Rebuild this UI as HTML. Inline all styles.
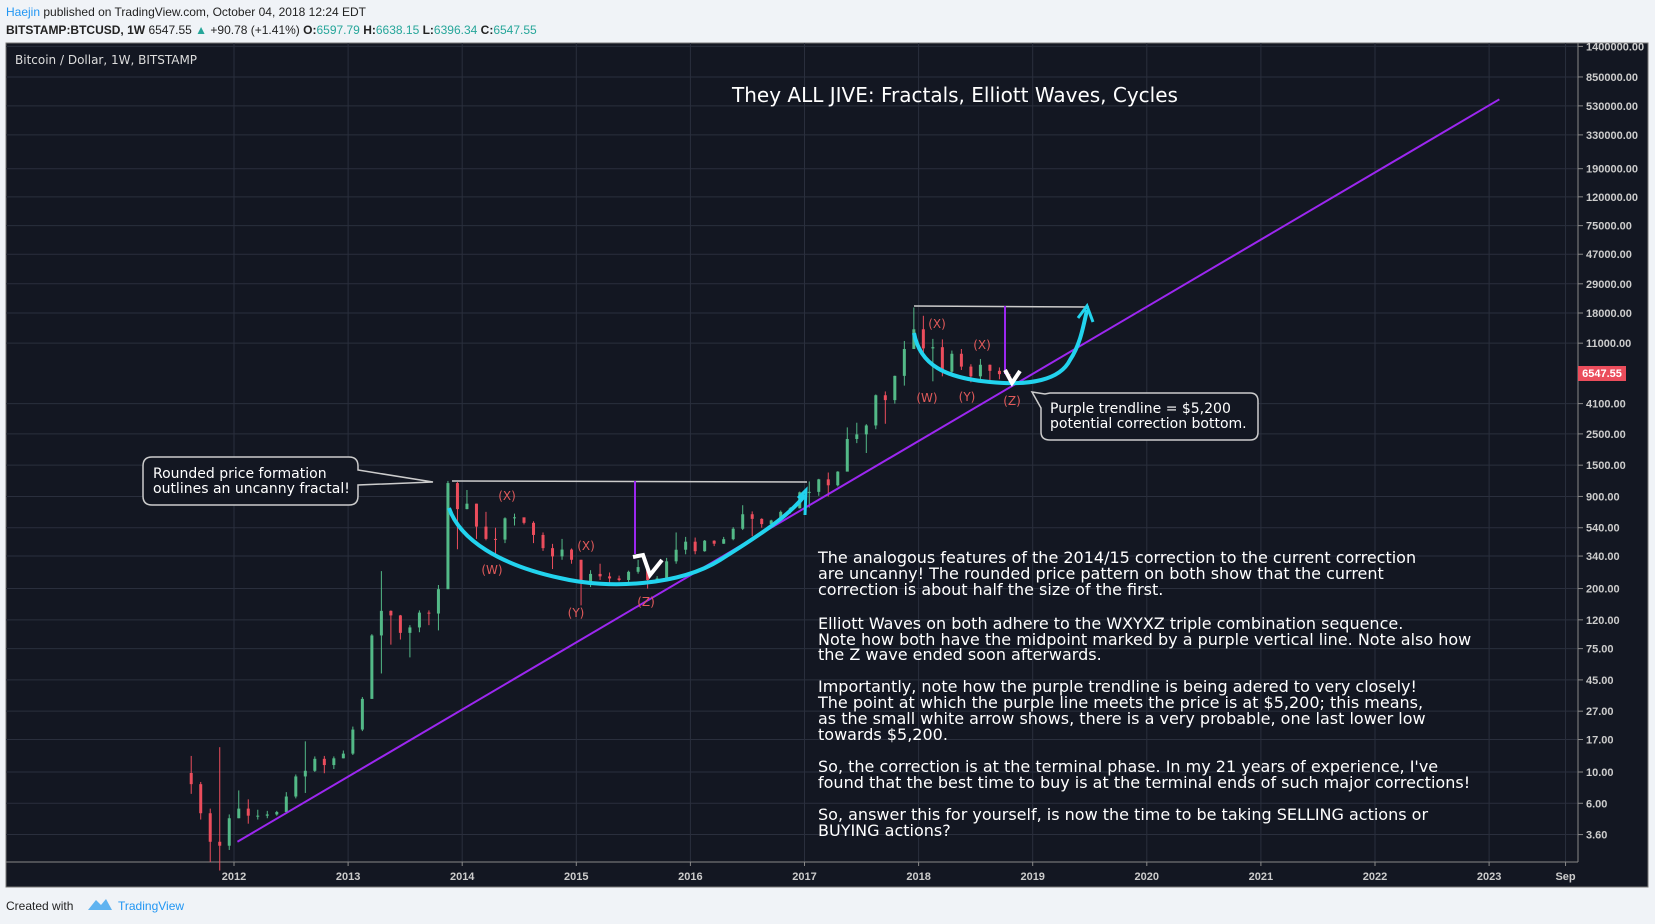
<!DOCTYPE html>
<html><head><meta charset="utf-8"><style>
body{margin:0;width:1655px;height:924px;background:#f0f3f7;overflow:hidden;font-family:"Liberation Sans",sans-serif}
svg{position:absolute;left:0;top:0}
</style></head><body>
<svg id="c" width="1655" height="924" xmlns="http://www.w3.org/2000/svg">
<rect x="0" y="0" width="1655" height="924" fill="#f0f3f7"/>
<text x="6" y="16" font-size="12" fill="#222"><tspan fill="#2196f3">Haejin</tspan> published on TradingView.com, October 04, 2018 12:24 EDT</text>
<text x="6" y="34" font-size="12" font-weight="bold" fill="#222">BITSTAMP:BTCUSD, 1W <tspan font-weight="normal">6547.55 </tspan><tspan fill="#26a69a">▲</tspan><tspan font-weight="normal"> +90.78 (+1.41%) </tspan>O:<tspan fill="#26a69a" font-weight="normal">6597.79</tspan> H:<tspan fill="#26a69a" font-weight="normal">6638.15</tspan> L:<tspan fill="#26a69a" font-weight="normal">6396.34</tspan> C:<tspan fill="#26a69a" font-weight="normal">6547.55</tspan></text>
<rect x="6" y="43" width="1642" height="844" fill="#131722" stroke="#777"/>
<g id="grid"></g>
<line x1="1578" y1="43" x2="1578" y2="862" stroke="#888"/>
<line x1="6" y1="862" x2="1578" y2="862" stroke="#888"/>
<g id="candles"></g>
<g id="trend"></g>
<text x="15" y="64" font-size="12" fill="#ddd" font-family="DejaVu Sans,sans-serif">Bitcoin / Dollar, 1W, BITSTAMP</text>
<text x="955" y="102" font-size="20" fill="#fff" text-anchor="middle" font-family="DejaVu Sans,sans-serif">They ALL JIVE: Fractals, Elliott Waves, Cycles</text>
<g fill="none">
<line x1="452" y1="481" x2="807" y2="482" stroke="#ccc" stroke-width="1.5"/>
<line x1="914" y1="306" x2="1089" y2="307" stroke="#ccc" stroke-width="1.5"/>
<line x1="635" y1="481" x2="635" y2="554" stroke="#9c27f0" stroke-width="2"/>
<line x1="1005" y1="306" x2="1005" y2="374" stroke="#9c27f0" stroke-width="2"/>
<path d="M449,508 C460,540 500,565 560,578 C610,590 680,585 720,560 C760,535 790,515 805,495" stroke="#22d3ee" stroke-width="4"/>
<path d="M798,498 L806,490 L805,515" stroke="#22d3ee" stroke-width="3"/>
<path d="M914,333 C920,365 945,378 990,382 C1030,386 1060,380 1070,360 C1080,345 1083,328 1087,310" stroke="#22d3ee" stroke-width="4"/>
<path d="M1078,318 L1087,306 L1093,322" stroke="#22d3ee" stroke-width="3"/>
<path d="M633,557 L643,555 L650,575 L662,560" stroke="#fff" stroke-width="4"/>
<path d="M1005,370 L1012,383 L1020,371" stroke="#fff" stroke-width="4"/>
</g>
<g font-size="12" fill="#e05a5a" font-family="DejaVu Sans,sans-serif" text-anchor="middle">
<text x="507" y="500">(X)</text><text x="492" y="574">(W)</text><text x="586" y="550">(X)</text><text x="576" y="617">(Y)</text><text x="646" y="606">(Z)</text>
<text x="937" y="328">(X)</text><text x="927" y="402">(W)</text><text x="982" y="349">(X)</text><text x="967" y="401">(Y)</text><text x="1012" y="405">(Z)</text>
</g>
<g>
<path d="M152,457 H349 Q358,457 358,466 V470 L433,482 L358,485 V496 Q358,505 349,505 H152 Q143,505 143,496 V466 Q143,457 152,457 Z" fill="#131722" stroke="#ccc" stroke-width="1.5"/>
<text x="153" y="478" font-size="14" fill="#fff" font-family="DejaVu Sans,sans-serif">Rounded price formation</text>
<text x="153" y="493" font-size="14" fill="#fff" font-family="DejaVu Sans,sans-serif">outlines an uncanny fractal!</text>
</g>
<g>
<path d="M1050,393 H1250 Q1258,393 1258,401 V432 Q1258,440 1250,440 H1050 Q1041,440 1041,432 V408 L1032,392 L1045,394 Z" fill="#131722" stroke="#ccc" stroke-width="1.5"/>
<text x="1050" y="413" font-size="14" fill="#fff" font-family="DejaVu Sans,sans-serif">Purple trendline = $5,200</text>
<text x="1050" y="428" font-size="14" fill="#fff" font-family="DejaVu Sans,sans-serif">potential correction bottom.</text>
</g>
<g font-size="16" fill="#fff" font-family="DejaVu Sans,sans-serif">
<text x="818" y="563">The analogous features of the 2014/15 correction to the current correction</text>
<text x="818" y="579">are uncanny! The rounded price pattern on both show that the current</text>
<text x="818" y="595">correction is about half the size of the first.</text>
<text x="818" y="629">Elliott Waves on both adhere to the WXYXZ triple combination sequence.</text>
<text x="818" y="645">Note how both have the midpoint marked by a purple vertical line. Note also how</text>
<text x="818" y="660">the Z wave ended soon afterwards.</text>
<text x="818" y="692">Importantly, note how the purple trendline is being adered to very closely!</text>
<text x="818" y="708">The point at which the purple line meets the price is at $5,200; this means,</text>
<text x="818" y="724">as the small white arrow shows, there is a very probable, one last lower low</text>
<text x="818" y="740">towards $5,200.</text>
<text x="818" y="772">So, the correction is at the terminal phase. In my 21 years of experience, I've</text>
<text x="818" y="788">found that the best time to buy is at the terminal ends of such major corrections!</text>
<text x="818" y="820">So, answer this for yourself, is now the time to be taking SELLING actions or</text>
<text x="818" y="836">BUYING actions?</text>
</g>
<g>
<rect x="1578" y="366" width="48" height="15" fill="#eb4d5c"/>
<text x="1602" y="377" font-size="11" fill="#fff" text-anchor="middle" font-weight="bold">6547.55</text>
</g>
<text x="6" y="910" font-size="12" fill="#222">Created with</text>
<path d="M88,910 L96,900 L101,905 L106,899 L112,910 Z" fill="#5fb3f0"/>
<text x="118" y="910" font-size="12" fill="#2196f3">TradingView</text>
</svg>
<script>
const yTicks=[1400000,850000,530000,330000,190000,120000,75000,47000,29000,18000,11000,4100,2500,1500,900,540,340,200,120,75,45,27,17,10,6,3.6];
const xTickLabels=["2012","2013","2014","2015","2016","2017","2018","2019","2020","2021","2022","2023","Sep"];
const xTickYears=[2012,2013,2014,2015,2016,2017,2018,2019,2020,2021,2022,2023,2023.67];
const startYear=2011,startMonth=7;
const closes=[8.2,5.1,3.2,3.0,4.7,5.5,4.9,4.9,5.0,5.2,6.7,9.3,10.2,12.4,11.2,12.5,13.5,20,33,93,139,129,97,106,135,133,198,1120,732,800,550,450,445,630,640,585,480,387,338,378,320,217,254,244,236,230,263,284,230,236,312,377,430,368,437,416,448,531,673,624,573,608,700,742,963,970,1190,1080,1350,2300,2480,2870,4700,4340,6450,10000,13800,10100,10300,6900,9250,7500,6400,7730,7000,6630,6547.55];
const highs=[13,8.5,5.5,15,5,7.4,6.4,5.4,5.3,5.3,7.2,9.6,16.5,12.9,13,12.9,14.2,21,34,95,266,140,130,110,140,140,212,1160,1140,1000,800,700,540,640,680,630,600,500,415,450,385,320,270,300,260,247,268,320,285,245,330,500,465,460,442,440,465,545,780,705,630,615,715,755,975,1150,1200,1330,1360,2780,3000,2930,4760,5000,6470,11400,19700,17200,11800,11700,9750,10000,7800,8500,7760,7400,6640];
const lows=[7,4.6,2.3,2.0,2.8,4.7,4.3,4.6,4.7,4.9,5.2,6.5,7.1,10,9.8,10.5,12.5,13.2,19.5,33,50,80,87,65,98,110,101,198,380,730,450,440,340,420,560,570,420,370,275,320,300,152,205,230,215,225,220,255,200,225,235,300,350,350,365,400,415,440,520,470,540,570,605,680,740,750,910,900,1060,1380,2150,1830,2700,2950,4100,5500,10900,9300,5900,6400,6450,7100,5800,6000,5850,6100,6400];
const trendStart=[2012.03,3.2],trendEnd=[2023.09,590000];
const NS='http://www.w3.org/2000/svg';
function xs(yr){return 234+(yr-2012)*114.1;}
function ys(p){return 772-141*(Math.log10(p)-1);}
function mk(t,a,parent){const e=document.createElementNS(NS,t);for(const k in a)e.setAttribute(k,a[k]);parent.appendChild(e);return e;}
const grid=document.getElementById('grid');
yTicks.forEach(v=>{const y=ys(v);
 const l=mk('line',{x1:6,x2:1578,y1:y,y2:y,stroke:'#2a2f3d'},grid);
 
 
 mk('line',{x1:1578,x2:1583,y1:y,y2:y,stroke:'#888'},grid);
 const t=mk('text',{x:1586,y:y+4,'font-size':11,fill:'#ccc','font-weight':'bold'},grid);
 t.textContent=v.toFixed(2);
 
 
});
xTickYears.forEach((yr,i)=>{const x=xs(yr);
 const l=mk('line',{x1:x,x2:x,y1:43,y2:862,stroke:'#2a2f3d'},grid);
 
 
 mk('line',{x1:x,x2:x,y1:862,y2:866,stroke:'#888'},grid);
 const t=mk('text',{x:x,y:880,'font-size':11,fill:'#ccc','font-weight':'bold','text-anchor':'middle'},grid);
 t.textContent=xTickLabels[i];
 
 
});
const cg=document.getElementById('candles');
closes.forEach((c,i)=>{
 const o=i===0?closes[0]*1.2:closes[i-1];
 const m=startMonth+i;const yr=startYear+Math.floor(m/12)+((m%12)+0.5)/12;
 const x=xs(yr);const col=c>=o?'#53b987':'#eb4d5c';
 const w=mk('line',{x1:x,x2:x,y1:ys(highs[i]),y2:ys(lows[i]),stroke:col,'stroke-width':1},cg);
 
 
 const top=ys(Math.max(o,c)),bot=ys(Math.min(o,c));
 const r=mk('rect',{x:x-1.5,y:top,width:3,height:Math.max(1,bot-top),fill:col},cg);
 
 
});
const tl=mk('line',{x1:xs(trendStart[0]),y1:ys(trendStart[1]),x2:xs(trendEnd[0]),y2:ys(trendEnd[1]),stroke:'#9c27f0','stroke-width':2},document.getElementById('trend'));


</script>
</body></html>
